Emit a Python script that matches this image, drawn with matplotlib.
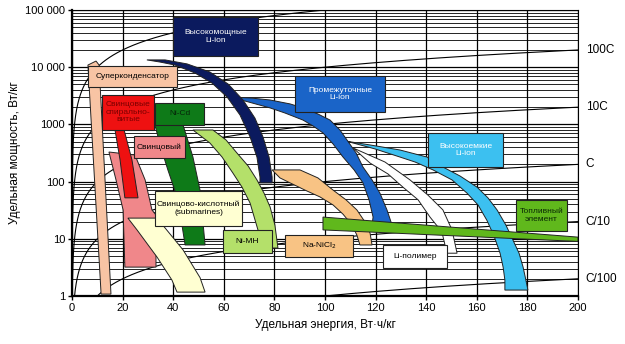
import numpy as np
import matplotlib
matplotlib.use("Agg")
import matplotlib.pyplot as plt
from matplotlib.patches import Polygon, Rectangle
from matplotlib.ticker import FixedLocator, FixedFormatter, NullFormatter, LogLocator

plt.rcParams['font.family'] = ['Liberation Sans', 'DejaVu Sans']

# ---- region outlines: specific energy (Wh/kg) / specific power (W/kg) ----
supercap_e = [6.3, 9.5, 10.7, 15.4, 11.5]
supercap_p = [10900, 12800, 10900, 1.08, 1.08]

pink_e = [14.6, 24.9, 28.9, 31.6, 33.2, 33.2, 20.9, 20.2, 17.4]
pink_p = [329, 292, 107, 32, 26, 3.2, 3.2, 32, 107]

red_e = [17.0, 19.0, 20.9, 26.1, 23.7, 20.6]
red_p = [798, 239, 52, 52, 239, 798]

nicd_e = [32.8, 43.9, 47.8, 50.6, 52.6, 44.7, 41.9, 37.9, 34.8]
nicd_p = [977, 977, 269, 71, 7.8, 7.8, 48, 160, 437]

cream_e = [22.1, 33.6, 43.9, 50.6, 52.6, 41.5, 39.5, 33.6, 25.7]
cream_p = [23, 23, 6.4, 2.1, 1.17, 1.17, 1.9, 4.8, 14.3]

nimh_e = [47.8, 55.7, 60.9, 65.2, 69.6, 73.1, 75.9, 78.3, 80.2, 81.4,
          75.1, 73.5, 70.4, 67.2, 63.6, 59.3, 54.5]
nimh_p = [798, 798, 533, 316, 188, 107, 63, 36, 17.4, 6.9,
          6.9, 14.3, 42, 80, 141, 269, 473]

navy_e = [29.6, 36.8, 45.5, 54.5, 61.7, 67.6, 72.3, 75.5, 77.9, 79.1, 79.1,
          74.3, 74.3, 73.1, 70.4, 66.4, 61.3, 55.3, 48.6, 40.7, 34.8]
navy_p = [13400, 13400, 11400, 8240, 5080, 2670, 1290, 602, 269, 120, 95,
          95, 120, 269, 602, 1460, 3010, 5290, 7920, 10900, 12300]

lipoly_e = [111.1, 123.7, 133.6, 140.7, 146.6, 150.2, 152.2,
            148.2, 146.2, 141.5, 136.8, 130.8, 124.9, 117.8]
lipoly_p = [387, 220, 107, 58, 32, 14.3, 5.6,
            5.6, 13.2, 24, 48, 80, 136, 211]

lightblue_e = [107.9, 117.8, 129.6, 140.3, 146.6, 153.4, 160.1, 164.4, 168.0, 171.5,
               174.3, 176.7, 178.3, 179.4, 180.2,
               171.1, 171.1, 170.4, 169.2, 166.8, 164.0, 160.5, 156.1, 150.2,
               142.7, 135.6, 129.6, 119.8, 111.1]
lightblue_p = [513, 437, 357, 269, 180, 125, 80, 52, 32, 17.4,
               9.5, 5.6, 3.2, 1.9, 1.27,
               1.27, 1.9, 3.2, 5.6, 11.2, 21, 39, 63, 107,
               160, 220, 269, 372, 473]

blue_e = [61.3, 70.4, 78.3, 86.2, 91.3, 97.2, 102.0, 105.9, 108.7, 112.3, 115.0,
          118.6, 121.7, 124.5, 126.5,
          118.6, 119.0, 117.4, 115.0, 111.5, 107.1, 103.2, 99.2, 95.3, 91.3,
          84.2, 78.3, 68.4]
blue_p = [3010, 2900, 2670, 2280, 1940, 1520, 1190, 798, 533, 316, 180,
          107, 63, 32, 17.4,
          17.4, 24, 48, 95, 160, 269, 454, 708, 938, 1190,
          1580, 1940, 2560]

nacl_e = [79.1, 90.1, 97.2, 103.2, 108.3, 112.6, 115.8, 117.8, 118.6,
          113.8, 112.6, 110.7, 107.1, 103.2, 98.0, 92.1, 86.2, 82.2]
nacl_p = [160, 160, 116, 71, 48, 32, 19.7, 12.6, 7.8,
          7.8, 11.6, 17.4, 27, 39, 54, 71, 95, 116]

fuel_e = [99.2, 200.0, 200.0, 99.2]
fuel_p = [24, 10.7, 9.0, 14.3]

# C-rate reference lines (power = rate * energy)
c_rates = [1000, 100, 10, 1, 0.1, 0.01]
c_rate_labels = {100: "100C", 10: "10C", 1: "C", 0.1: "C/10", 0.01: "C/100"}

x_ticks = [0, 20, 40, 60, 80, 100, 120, 140, 160, 180, 200]
y_ticks = [1, 10, 100, 1000, 10000, 100000]
y_tick_labels = ["1", "10", "100", "1000", "10 000", "100 000"]

fig = plt.figure(figsize=(6.25, 3.44), dpi=100)
ax = fig.add_axes([0.1152, 0.1395, 0.8096, 0.8315])
ax.set_yscale('log')
ax.set_xlim(0, 200)
ax.set_ylim(1, 100000)

# grid
ax.xaxis.set_major_locator(FixedLocator(x_ticks))
ax.yaxis.set_major_locator(FixedLocator(y_ticks))
ax.yaxis.set_major_formatter(FixedFormatter(y_tick_labels))
ax.yaxis.set_minor_locator(LogLocator(base=10, subs=np.arange(2, 10)))
ax.yaxis.set_minor_formatter(NullFormatter())
ax.grid(True, which='major', axis='both', color='black', lw=0.9, zorder=0)
ax.grid(True, which='minor', axis='y', color='black', lw=0.6, zorder=0)
ax.set_axisbelow(True)
ax.tick_params(which='minor', length=0)
ax.tick_params(which='major', length=3, width=1, labelsize=8, pad=2)

# C-rate curves
e_line = np.geomspace(0.01, 200, 400)
for r in c_rates:
    ax.plot(e_line, r * e_line, color='black', lw=0.8, zorder=1)
    if r in c_rate_labels:
        ax.text(203, r * 200, c_rate_labels[r], fontsize=8.5, va='center', ha='left',
                clip_on=False)

regions = [
    (supercap_e, supercap_p, '#F8C4A4'),
    (pink_e, pink_p, '#F0878A'),
    (red_e, red_p, '#EE1111'),
    (nicd_e, nicd_p, '#0E7A18'),
    (cream_e, cream_p, '#FFFFD2'),
    (nimh_e, nimh_p, '#B4E06A'),
    (lipoly_e, lipoly_p, '#FFFFFF'),
    (lightblue_e, lightblue_p, '#3CC0F0'),
    (blue_e, blue_p, '#1A64C8'),
    (navy_e, navy_p, '#0B1A5E'),
    (nacl_e, nacl_p, '#F8C384'),
    (fuel_e, fuel_p, '#60B81C'),
]
for i, (e, p, col) in enumerate(regions):
    poly = Polygon(np.column_stack([e, p]), closed=True, facecolor=col,
                   edgecolor='#222222', lw=0.7, zorder=2 + i * 0.01)
    ax.add_patch(poly)

# label boxes: (E0, E1, P0, P1, text, face, text colour)
boxes = [
    (39.9, 73.5, 15700, 75500, "Высокомощные\nLi-ion", '#0B1A5E', 'white'),
    (6.3, 41.5, 4510, 10500, "Суперконденсатор", '#F8C4A4', 'black'),
    (11.9, 32.4, 798, 3270, "Свинцовые\nспирально-\nвитые", '#EE1111', '#7A0000'),
    (32.8, 52.2, 977, 2370, "Ni-Cd", '#0E7A18', '#06260A'),
    (24.5, 44.7, 259, 627, "Свинцовый", '#F0878A', 'black'),
    (32.8, 67.2, 16.7, 68.5, "Свинцово-кислотный\n(submarines)", '#FFFFD2', 'black'),
    (59.7, 79.1, 5.6, 14.3, "Ni-MH", '#B4E06A', 'black'),
    (84.2, 111.1, 4.8, 11.6, "Na-NiCl$_2$", '#F8C384', 'black'),
    (88.1, 123.7, 1650, 7010, "Промежуточные\nLi-ion", '#1A64C8', 'white'),
    (140.7, 170.4, 180, 708, "Высокоемкие\nLi-ion", '#3CC0F0', 'white'),
    (122.9, 148.2, 3.1, 7.8, "Li-полимер", '#FFFFFF', 'black'),
    (175.5, 195.7, 13.6, 48, "Топливный\nэлемент", '#60B81C', '#0A2A05'),
]
for e0, e1, p0, p1, txt, face, tcol in boxes:
    ax.add_patch(Rectangle((e0, p0), e1 - e0, p1 - p0, facecolor=face,
                           edgecolor='#222222', lw=0.8, zorder=3))
    ax.text((e0 + e1) / 2, np.sqrt(p0 * p1), txt, ha='center', va='center',
            fontsize=6, color=tcol, linespacing=1.1, zorder=4)

for s in ax.spines.values():
    s.set_color('black')
ax.spines['left'].set_linewidth(1.6)
ax.spines['bottom'].set_linewidth(1.6)

ax.set_xlabel("Удельная энергия, Вт·ч/кг", fontsize=8.5, labelpad=4)
ax.set_ylabel("Удельная мощность, Вт/кг", fontsize=8.5, labelpad=3)

fig.savefig("out.png", dpi=100)
